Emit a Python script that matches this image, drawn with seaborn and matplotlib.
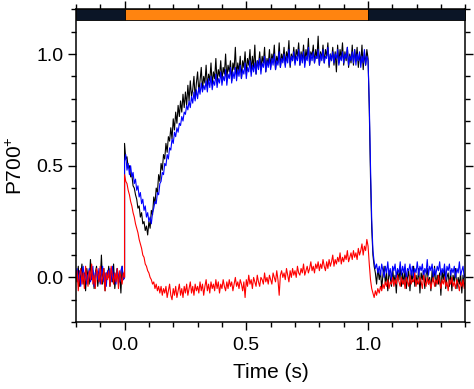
import numpy as np
import pandas as pd
import matplotlib
matplotlib.use("Agg")
import matplotlib.pyplot as plt
from matplotlib.ticker import MultipleLocator
from matplotlib.patches import Rectangle
import seaborn as sns

# time grid (s): dark (-0.2..0), light on (0..1.0), dark again (1.005..1.4)
t_pre = np.round(np.linspace(-0.20, 0.0, 41), 3)
t_on = np.round(np.linspace(0.0, 1.0, 201), 3)
t_off = np.round(np.linspace(1.005, 1.4, 79), 3)

black_pre = [0.03,-0.02,0.05,-0.04,0.01,0.06,-0.03,0.02,-0.06,0.04,
             0.00,-0.03,0.08,-0.01,0.03,-0.05,0.02,0.05,-0.04,0.01,
             -0.02,0.10,-0.03,0.04,-0.06,0.02,0.00,0.05,-0.04,0.03,
             -0.02,0.06,-0.05,0.01,0.04,-0.03,0.02,-0.07,0.05,-0.01,
             0.00]
blue_pre = [0.01,0.04,-0.02,0.03,-0.04,0.02,0.05,-0.01,0.03,-0.03,
            0.01,0.04,-0.02,0.00,0.05,-0.04,0.02,0.03,-0.01,0.04,
            -0.03,0.01,0.05,-0.02,0.02,-0.04,0.03,0.00,0.04,-0.02,
            0.05,-0.01,0.02,-0.03,0.04,0.01,-0.02,0.03,0.05,-0.01,
            0.00]
red_pre = [-0.02,0.03,-0.06,0.01,0.04,-0.03,0.02,-0.05,0.05,0.00,
           -0.04,0.03,-0.01,0.06,-0.03,0.01,-0.05,0.04,0.02,-0.02,
           0.05,-0.03,0.00,0.04,-0.06,0.02,-0.01,0.03,-0.04,0.05,
           0.01,-0.03,0.02,-0.02,0.04,-0.05,0.03,0.00,-0.03,0.02,
           0.00]

black_on = [0.60,0.53,0.54,0.49,0.50,0.45,0.46,0.41,0.40,0.37,
            0.35,0.31,0.32,0.27,0.29,0.24,0.25,0.21,0.23,0.19,
            0.25,0.22,0.30,0.28,0.36,0.33,0.40,0.38,0.46,0.43,
            0.51,0.48,0.55,0.53,0.60,0.56,0.63,0.61,0.67,0.62,
            0.71,0.66,0.74,0.69,0.77,0.72,0.79,0.74,0.82,0.76,
            0.83,0.77,0.86,0.79,0.88,0.81,0.84,0.90,0.80,0.87,
            0.92,0.83,0.88,0.94,0.84,0.90,0.87,0.95,0.85,0.91,
            0.88,0.96,0.86,0.92,0.89,0.98,0.87,0.93,0.90,0.97,
            0.88,0.94,0.91,1.00,0.89,0.95,0.92,0.97,0.88,0.96,
            0.93,1.03,0.90,0.96,0.92,0.99,0.89,0.97,0.94,1.01,
            0.91,0.98,0.95,1.02,0.92,0.99,0.94,1.04,0.91,0.97,
            0.95,1.01,0.93,0.99,0.96,1.03,0.92,0.98,0.95,1.02,
            0.94,1.00,0.97,1.04,0.93,0.99,0.96,1.05,0.94,1.00,
            0.97,1.03,0.95,1.01,0.98,1.06,0.94,1.00,0.97,1.03,
            0.96,1.02,0.99,1.05,0.95,1.01,0.97,1.04,0.96,1.02,
            0.98,1.07,0.95,1.01,0.99,1.04,0.96,1.02,0.98,1.08,
            0.95,1.01,0.98,1.04,0.96,1.02,0.99,1.05,0.94,1.00,
            0.97,1.03,0.95,1.01,0.92,1.04,0.96,1.02,0.98,1.05,
            0.95,1.01,0.97,1.03,0.94,1.00,0.96,1.04,0.95,1.02,
            0.97,1.03,0.94,1.00,0.96,1.04,0.93,1.01,0.95,1.02,
            0.98]
blue_on = [0.52,0.55,0.48,0.51,0.46,0.50,0.45,0.47,0.42,0.44,
           0.39,0.41,0.36,0.38,0.33,0.35,0.30,0.32,0.27,0.29,
           0.25,0.27,0.24,0.29,0.31,0.34,0.33,0.38,0.37,0.42,
           0.43,0.47,0.46,0.51,0.50,0.55,0.53,0.58,0.57,0.62,
           0.60,0.65,0.63,0.67,0.65,0.69,0.68,0.72,0.70,0.74,
           0.73,0.77,0.75,0.79,0.76,0.81,0.78,0.83,0.79,0.84,
           0.80,0.85,0.82,0.87,0.83,0.86,0.84,0.88,0.83,0.89,
           0.85,0.90,0.84,0.88,0.86,0.91,0.85,0.89,0.87,0.92,
           0.86,0.90,0.88,0.93,0.86,0.91,0.89,0.94,0.87,0.92,
           0.89,0.94,0.88,0.93,0.90,0.95,0.89,0.93,0.91,0.96,
           0.89,0.94,0.92,0.97,0.90,0.95,0.92,0.96,0.91,0.97,
           0.93,0.98,0.91,0.96,0.94,0.99,0.92,0.97,0.94,0.98,
           0.93,0.98,0.95,1.00,0.93,0.97,0.95,1.01,0.94,0.98,
           0.96,1.00,0.94,0.99,0.96,1.02,0.95,0.99,0.97,1.01,
           0.95,0.99,0.97,1.02,0.95,1.00,0.96,1.01,0.94,0.99,
           0.97,1.03,0.95,1.00,0.97,1.01,0.96,0.99,0.98,1.02,
           0.95,1.00,0.97,1.02,0.96,0.99,0.98,1.03,0.95,1.00,
           0.97,1.01,0.96,1.00,0.98,1.02,0.95,0.99,0.97,1.01,
           0.96,1.00,0.98,1.03,0.95,0.99,0.97,1.01,0.96,1.02,
           0.95,1.00,0.97,1.01,0.94,0.99,0.96,1.02,0.95,0.99,
           0.97]
red_on = [0.46,0.43,0.42,0.39,0.37,0.34,0.32,0.29,0.27,0.24,
          0.22,0.20,0.17,0.15,0.13,0.10,0.09,0.06,0.05,0.03,
          0.02,0.00,-0.01,-0.03,-0.02,-0.05,-0.03,-0.06,-0.04,-0.07,
          -0.04,-0.08,-0.05,-0.07,-0.04,-0.09,-0.06,-0.03,-0.08,-0.10,
          -0.05,-0.08,-0.04,-0.09,-0.06,-0.03,-0.08,-0.05,-0.09,-0.04,
          -0.07,-0.03,-0.08,-0.05,-0.02,-0.07,-0.04,-0.08,-0.03,-0.06,
          -0.04,-0.07,-0.02,-0.06,-0.03,-0.08,-0.04,-0.01,-0.06,-0.03,
          -0.07,-0.02,-0.05,-0.03,-0.06,-0.01,-0.05,-0.02,-0.07,-0.03,
          -0.05,-0.01,-0.04,-0.06,-0.02,-0.05,-0.01,-0.04,-0.02,-0.06,
          -0.03,0.00,-0.04,-0.02,-0.05,-0.01,-0.03,-0.06,-0.02,-0.09,
          -0.01,-0.04,0.01,-0.03,-0.01,-0.05,0.00,-0.02,-0.04,0.01,
          -0.02,-0.04,0.00,-0.01,-0.03,0.02,-0.02,0.00,-0.03,0.01,
          -0.01,-0.03,0.02,0.00,-0.02,0.03,-0.01,-0.08,0.01,0.03,
          0.00,0.02,-0.01,0.04,0.01,-0.02,0.03,0.00,0.04,0.01,
          0.03,0.00,0.05,0.02,0.01,0.04,0.02,0.06,0.01,0.03,
          0.05,0.02,0.04,0.07,0.03,0.05,0.02,0.06,0.04,0.07,
          0.03,0.06,0.04,0.08,0.05,0.03,0.07,0.04,0.08,0.05,
          0.07,0.10,0.05,0.08,0.06,0.09,0.07,0.11,0.06,0.09,
          0.07,0.10,0.08,0.12,0.07,0.09,0.11,0.08,0.12,0.09,
          0.11,0.08,0.13,0.10,0.12,0.15,0.10,0.14,0.12,0.17,
          0.14]

black_off = [0.75,0.45,0.22,0.10,0.05,0.02,-0.03,0.04,-0.01,0.03,
             -0.05,0.01,0.05,-0.03,0.02,-0.06,0.03,0.00,-0.04,0.04,
             -0.02,0.01,-0.07,0.03,-0.01,0.05,-0.04,0.02,-0.03,0.04,
             -0.05,0.00,0.03,-0.06,0.02,-0.02,0.05,-0.04,0.01,-0.03,
             0.04,-0.07,0.02,-0.01,0.03,-0.05,0.01,0.04,-0.03,0.00,
             -0.06,0.03,-0.02,0.05,-0.04,0.01,-0.03,0.02,-0.08,0.03,
             -0.01,0.04,-0.05,0.00,0.02,-0.04,0.03,-0.06,0.01,-0.02,
             0.04,-0.05,0.00,-0.03,0.02,-0.07,0.01,-0.04,-0.02]
blue_off = [0.78,0.50,0.26,0.12,0.07,0.04,0.06,0.02,0.05,0.01,
            0.06,0.03,0.00,0.05,0.02,0.07,0.01,0.04,-0.01,0.05,
            0.03,0.06,0.00,0.04,0.02,0.07,0.01,0.05,0.02,0.06,
            -0.01,0.04,0.03,0.06,0.01,0.05,0.00,0.04,0.02,0.07,
            0.01,0.05,0.03,0.06,0.00,0.04,0.02,0.08,0.01,0.05,
            0.03,0.06,0.00,0.04,0.01,0.05,0.03,0.07,0.01,0.04,
            0.02,0.06,-0.01,0.05,0.03,0.06,0.01,0.04,0.02,0.05,
            0.00,0.04,0.02,0.07,0.01,0.03,0.05,0.00,0.02]
red_off = [0.06,-0.01,-0.05,-0.07,-0.09,-0.06,-0.08,-0.05,-0.07,-0.04,
           -0.06,-0.03,-0.05,-0.02,-0.04,-0.01,-0.05,-0.02,-0.03,0.00,
           -0.04,-0.01,-0.03,0.01,-0.02,-0.04,0.00,-0.03,-0.01,-0.05,
           0.00,-0.02,-0.04,0.01,-0.03,-0.01,-0.02,0.02,-0.04,-0.01,
           -0.03,0.00,-0.02,-0.05,0.01,-0.02,-0.04,0.00,-0.03,-0.01,
           -0.05,-0.02,0.00,-0.04,-0.01,-0.03,0.01,-0.02,-0.05,-0.01,
           -0.03,0.00,-0.04,-0.02,-0.06,-0.01,-0.03,0.00,-0.04,-0.02,
           -0.05,-0.01,-0.03,-0.06,-0.02,-0.04,-0.01,-0.05,-0.03]

light_periods = [(-0.2, 0.0, "dark"), (0.0, 1.0, "light"), (1.0, 1.4, "dark")]
bar_colors = {"dark": "#0b1526", "light": "#ff8410"}

time = np.concatenate([t_pre, t_on, t_off])
rows = []
for name, pre, on, off in [("black", black_pre, black_on, black_off),
                           ("blue", blue_pre, blue_on, blue_off),
                           ("red", red_pre, red_on, red_off)]:
    vals = list(pre) + list(on) + list(off)
    for i, (tt, v) in enumerate(zip(time, vals)):
        rows.append({"t": tt, "P700": v, "trace": name, "order": i})
df = pd.DataFrame(rows)

sns.set_theme(style="white")
plt.rcParams["font.family"] = ["Liberation Sans", "DejaVu Sans"]
plt.rcParams["mathtext.default"] = "regular"
plt.rcParams["text.color"] = "#000000"
plt.rcParams["axes.labelcolor"] = "#000000"
plt.rcParams["xtick.color"] = "#000000"
plt.rcParams["ytick.color"] = "#000000"

fig = plt.figure(figsize=(4.74, 3.89), dpi=100)
ax = fig.add_axes([0.160, 0.172, 0.822, 0.804])

palette = {"black": "#000000", "blue": "#0000ff", "red": "#ff0000"}
for name in ["black", "blue", "red"]:
    sub = df[df.trace == name].sort_values("order")
    sns.lineplot(data=sub, x="t", y="P700", color=palette[name], lw=0.8,
                 estimator=None, sort=False, ax=ax, legend=False)

ax.set_xlim(-0.2, 1.4)
ax.set_ylim(-0.2, 1.2)
for x0, x1, kind in light_periods:
    ax.add_patch(Rectangle((x0, 1.152), x1 - x0, 0.048, facecolor=bar_colors[kind],
                           edgecolor="#000000", lw=0.6, zorder=5, clip_on=False))

ax.xaxis.set_minor_locator(MultipleLocator(0.1))
ax.yaxis.set_minor_locator(MultipleLocator(0.1))
ax.set_yticks([0.0, 0.5, 1.0])
ax.set_yticklabels(["0.0", "0.5", "1.0"])
ax.set_xticks([0.0, 0.5, 1.0])
ax.set_xticklabels(["0.0", "0.5", "1.0"])
ax.tick_params(which="both", direction="out", top=True, right=True, bottom=True, left=True,
               labeltop=False, labelright=False, color="#000000", labelcolor="#000000", width=1.0)
ax.tick_params(which="major", length=6, labelsize=14)
ax.tick_params(axis="x", which="major", pad=5)
ax.tick_params(axis="y", which="major", pad=3)
ax.tick_params(which="minor", length=3.5)
for s in ax.spines.values():
    s.set_color("#000000")
    s.set_linewidth(1.1)

ax.set_xlabel("Time (s)", fontsize=15, labelpad=6, color="#000000")
ax.set_ylabel("P700$^{+}$", fontsize=15, labelpad=7, color="#000000")

fig.savefig("out.png", dpi=100)
